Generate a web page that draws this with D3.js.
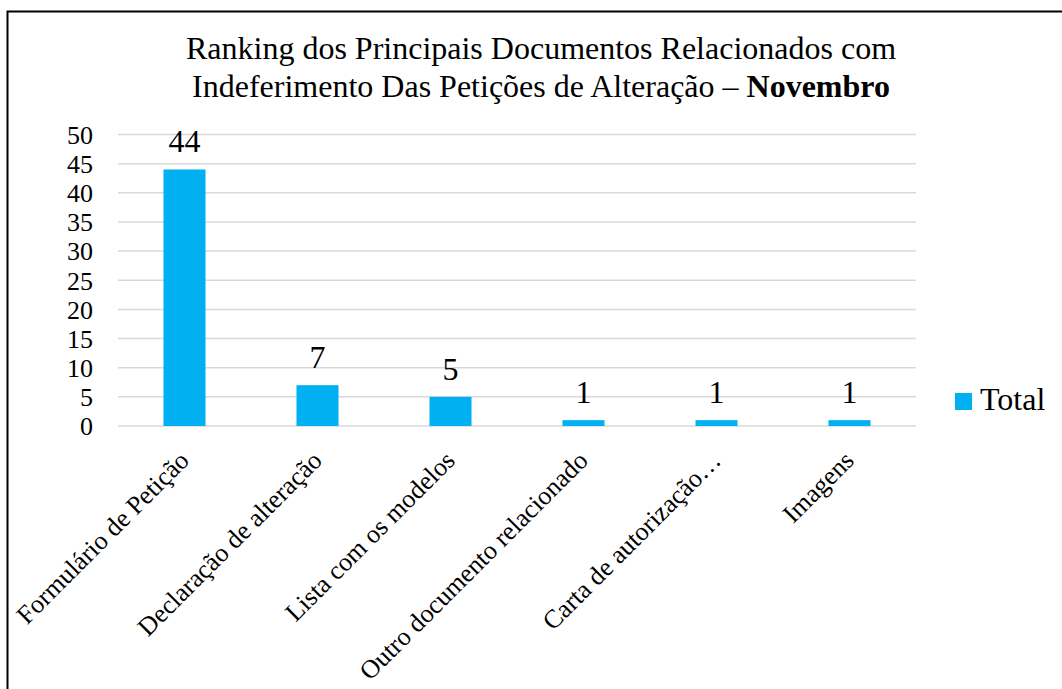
<!DOCTYPE html>
<html>
<head>
<meta charset="utf-8">
<script src="https://d3js.org/d3.v7.min.js"></script>
</head>
<body style="margin:0">
<script>
// data
const categorias = ["Formulário de Petição", "Declaração de alteração", "Lista com os modelos",
                    "Outro documento relacionado", "Carta de autorização…", "Imagens"];
const totais = [44, 7, 5, 1, 1, 1];
const yTicks = [0, 5, 10, 15, 20, 25, 30, 35, 40, 45, 50];
const serieNome = "Total";

const W = 1062, H = 689;
const plotL = 118, plotR = 916, plotT = 134.5, plotB = 426;
const FONT = "'Liberation Serif', 'Times New Roman', serif";

const svg = d3.select("body").append("svg")
    .attr("width", W)
    .attr("height", H)
    .style("font-family", FONT);

svg.append("rect").attr("width", W).attr("height", H).attr("fill", "#fff");

// frame, cut off at right and bottom like the original
svg.append("rect")
    .attr("x", 7.5).attr("y", 11.5)
    .attr("width", 1200).attr("height", 800)
    .attr("fill", "none")
    .attr("stroke", "#000")
    .attr("stroke-width", 2);

// title
const title = svg.append("text")
    .attr("text-anchor", "middle")
    .style("font-family", FONT)
    .style("font-size", "32px");
title.append("tspan").attr("x", 541).attr("y", 59)
    .style("font-family", FONT)
    .text("Ranking dos Principais Documentos Relacionados com");
const l2 = title.append("tspan").attr("x", 541).attr("y", 97).style("font-family", FONT);
l2.append("tspan").style("font-family", FONT).text("Indeferimento Das Petições de Alteração – ");
l2.append("tspan").style("font-family", FONT).style("font-weight", "bold").text("Novembro");

const x = d3.scaleBand().domain(categorias).range([plotL, plotR]).paddingInner(0.684).paddingOuter(0.342);
const y = d3.scaleLinear().domain([0, 50]).range([plotB, plotT]);

// gridlines
svg.append("g")
    .selectAll("line")
    .data(yTicks)
    .join("line")
    .attr("x1", plotL).attr("x2", plotR)
    .attr("y1", d => y(d)).attr("y2", d => y(d))
    .attr("stroke", "#d9d9d9")
    .attr("stroke-width", 1.5);

// y axis labels
const yAxis = svg.append("g")
    .attr("transform", `translate(${plotL},0)`)
    .call(d3.axisLeft(y).tickValues(yTicks).tickSize(0).tickPadding(25))
    .attr("font-family", null)
    .style("font-family", FONT);
yAxis.select(".domain").remove();
yAxis.selectAll("text")
    .style("font-family", FONT)
    .style("font-size", "26px")
    .attr("fill", "#000")
    .attr("dy", "0.34em");

// bars
svg.append("g")
    .selectAll("rect")
    .data(totais)
    .join("rect")
    .attr("x", (d, i) => x(categorias[i]))
    .attr("width", x.bandwidth())
    .attr("y", d => y(d))
    .attr("height", d => y(0) - y(d))
    .attr("fill", "#00b0f0");

// data labels
svg.append("g")
    .selectAll("text")
    .data(totais)
    .join("text")
    .attr("x", (d, i) => x(categorias[i]) + x.bandwidth() / 2)
    .attr("y", d => y(d) - 17)
    .attr("text-anchor", "middle")
    .style("font-family", FONT)
    .style("font-size", "32px")
    .text(d => d);

// category labels, rotated
const xAxis = svg.append("g")
    .attr("transform", `translate(0,${plotB})`)
    .call(d3.axisBottom(x).tickSize(0).tickPadding(0))
    .attr("font-family", null)
    .style("font-family", FONT);
xAxis.select(".domain").remove();
xAxis.selectAll("text")
    .style("font-family", FONT)
    .style("font-size", "26px")
    .attr("fill", "#000")
    .attr("text-anchor", "end")
    .attr("dy", "0")
    .attr("transform", "translate(6,36) rotate(-45)");

// legend
const leg = svg.append("g").attr("transform", "translate(955,393)");
leg.append("rect").attr("width", 17).attr("height", 17).attr("fill", "#00b0f0");
leg.append("text").attr("x", 25).attr("y", 17)
    .style("font-family", FONT)
    .style("font-size", "32px")
    .text(serieNome);
</script>
</body>
</html>
